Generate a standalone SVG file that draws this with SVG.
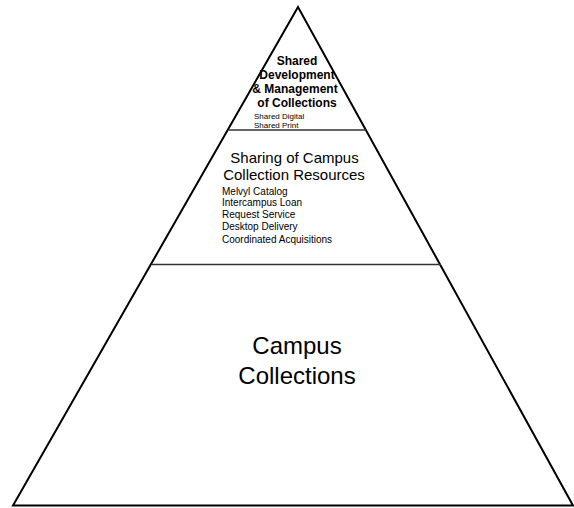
<svg xmlns="http://www.w3.org/2000/svg" width="574" height="508" viewBox="0 0 574 508">
<style>
  .edge { fill: none; stroke: #000; stroke-width: 2; stroke-linejoin: miter; }
  .div { stroke: #333; stroke-width: 1.5; }
  text { font-family: "Liberation Sans", Arial, sans-serif; fill: #000; }
  .t1 { font-size: 12px; font-weight: bold; text-anchor: middle; }
  .s1 { font-size: 8px; }
  .t2 { font-size: 15px; text-anchor: middle; }
  .s2 { font-size: 10px; }
  .t3 { font-size: 24px; text-anchor: middle; }
</style>
<rect width="574" height="508" fill="#fff"/>
<g id="connectors">
  <polygon class="edge" points="298,7 13,505.5 573,505.5"/>
  <line class="div" x1="229" y1="130" x2="366" y2="130"/>
  <line class="div" x1="152" y1="264.5" x2="441" y2="264.5"/>
</g>
<g id="tier-top">
  <text class="t1" x="297" y="65">Shared</text>
  <text class="t1" x="297" y="79">Development</text>
  <text class="t1" x="295" y="93">&amp; Management</text>
  <text class="t1" x="297" y="107">of Collections</text>
  <text class="s1" x="254" y="118.5">Shared Digital</text>
  <text class="s1" x="254" y="127.5">Shared Print</text>
</g>
<g id="tier-middle">
  <text class="t2" x="294.5" y="163">Sharing of Campus</text>
  <text class="t2" x="294" y="180">Collection Resources</text>
  <text class="s2" x="222" y="194.5">Melvyl Catalog</text>
  <text class="s2" x="222" y="206">Intercampus Loan</text>
  <text class="s2" x="222" y="217.5">Request Service</text>
  <text class="s2" x="222" y="229.5">Desktop Delivery</text>
  <text class="s2" x="222" y="243">Coordinated Acquisitions</text>
</g>
<g id="tier-bottom">
  <text class="t3" x="297" y="354">Campus</text>
  <text class="t3" x="297" y="383.5">Collections</text>
</g>
</svg>
